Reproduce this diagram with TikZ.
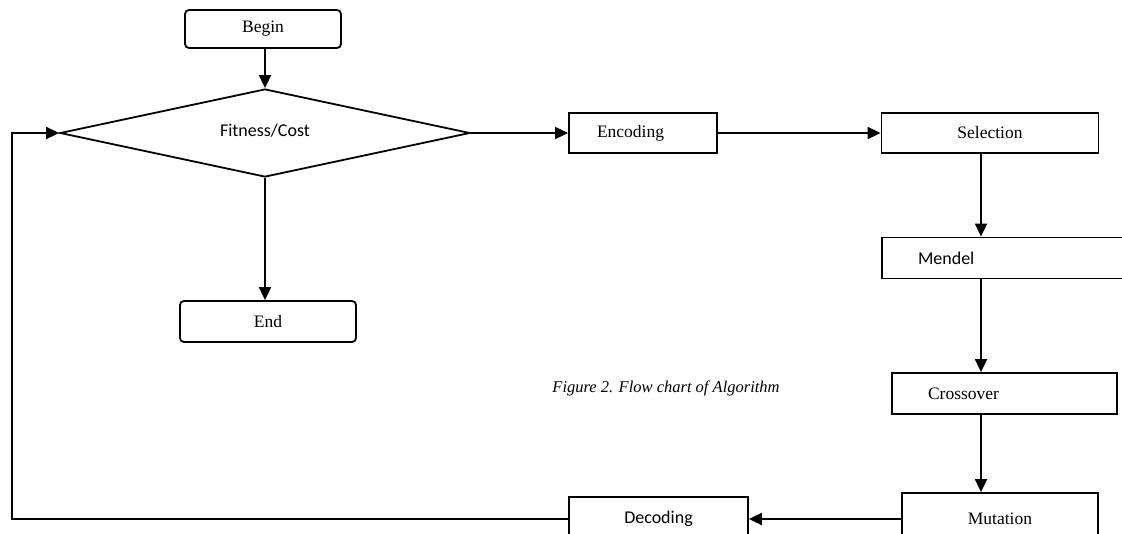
\documentclass[tikz,border=0pt]{standalone}
\usepackage{fontspec}
\setmainfont{Liberation Serif}
\newfontfamily\calfont{Carlito}
\usetikzlibrary{arrows.meta,shapes.geometric}
\begin{document}
\begin{tikzpicture}[x=1pt,y=-1pt,
  line width=1.8pt,
  >={Triangle[length=13pt,width=12pt]},
  box/.style={draw, rectangle, inner sep=0pt},
  rbox/.style={box, rounded corners=4pt},
  serif/.style={font=\fontsize{17.5}{20}\selectfont},
  sans/.style={font=\calfont\fontsize{18}{21}\selectfont},
]
\useasboundingbox (0,0) rectangle (1122,533);
\begin{scope}
\clip (0,0) rectangle (1122,533);
\node[rbox, minimum width=156pt, minimum height=38pt, serif] (begin) at (263,29) {\raisebox{-3pt}{Begin}};
\node[draw, diamond, inner sep=0pt, aspect=4.66, minimum width=410pt, minimum height=88pt, sans] (fit) at (265,133) {\raisebox{6pt}{Fitness/Cost}};
\node[box, minimum width=148pt, minimum height=40pt, serif, text width=92pt, align=left, inner xsep=28pt] (enc) at (643,133) {Encoding};
\node[box, minimum width=217pt, minimum height=40pt, serif] (sel) at (990,133) {Selection};
\node[box, minimum width=260pt, minimum height=41pt, sans, text width=188pt, align=left, inner xsep=36pt] (men) at (1012,258) {Mendel};
\node[box, minimum width=225pt, minimum height=41pt, serif, text width=153pt, align=left, inner xsep=36pt] (cro) at (1004.5,393.5) {Crossover};
\node[box, minimum width=196pt, minimum height=52pt, serif] (mut) at (1000,519) {Mutation};
\node[box, minimum width=179pt, minimum height=44pt, sans] (dec) at (658.5,519) {Decoding};
\node[rbox, minimum width=176pt, minimum height=41pt, serif] (end) at (268,321.5) {\raisebox{-2pt}{End}};
\node[font=\itshape\fontsize{16.5}{19}\selectfont] (cap) at (666,388) {Figure 2. Flow chart of Algorithm};
\coordinate (mx) at (981,0);
\coordinate (lx) at (12,300);
\draw[->] (begin.south -| fit.north) -- (fit.north);
\draw[->] (fit.east) -- (enc.west);
\draw[->] (enc.east) -- (enc.east -| sel.west);
\draw[->] (sel.south -| mx) -- (men.north -| mx);
\draw[->] (men.south -| mx) -- (cro.north -| mx);
\draw[->] (cro.south -| mx) -- (mut.north -| mx);
\draw[->] (mut.west) -- (dec.east);
\draw[->] (dec.west) -| (lx) |- (fit.west);
\draw[->] (fit.south) -- (fit.south |- end.north);
\end{scope}
\end{tikzpicture}
\end{document}
